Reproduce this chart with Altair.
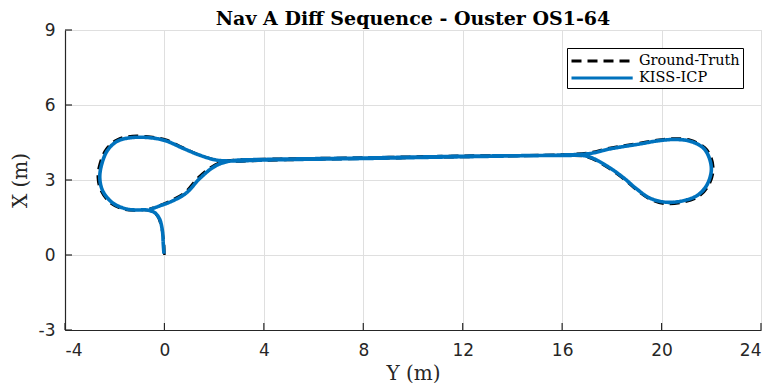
import altair as alt
import pandas as pd

# KISS-ICP trajectory (horizontal = Y [m], vertical = X [m])
kiss_y = [-0.02, -0.05, -0.08, -0.2, -0.4, -0.7, -1.12, -1.52, -2.08, -2.48, -2.6, -2.52, -2.28, -1.88,
          -1.28, -0.48, 0.08, 0.72, 1.4, 2.08, 2.8, 4.0, 8.0, 12.0, 16.0, 17.0, 17.8, 18.48, 19.0, 19.52,
          20.08, 20.72, 21.4, 21.8, 22.0, 21.92, 21.68, 21.12, 20.48, 19.8, 19.12, 18.48, 17.8, 17.12,
          16.0, 12.0, 8.0, 4.0, 2.8, 2.32, 1.92, 1.4, 0.88, 0.32, -0.2, -0.6]
kiss_x = [0.05, 0.5, 0.96, 1.45, 1.7, 1.8, 1.8, 1.84, 2.08, 2.56, 3.08, 3.64, 4.2, 4.56,
          4.7, 4.68, 4.56, 4.28, 4.0, 3.8, 3.76, 3.8, 3.86, 3.93, 3.98, 3.95, 3.56, 3.08, 2.64, 2.28,
          2.12, 2.14, 2.36, 2.76, 3.36, 3.88, 4.28, 4.56, 4.62, 4.56, 4.44, 4.34, 4.22, 4.06,
          4.0, 3.95, 3.88, 3.82, 3.78, 3.68, 3.48, 3.04, 2.48, 2.16, 1.96, 1.82]

# Ground-truth trajectory
gt_y = [0.0, -0.02, -0.1, -0.25, -0.45, -0.75, -1.15, -1.6, -2.15, -2.55, -2.68, -2.6, -2.34, -1.9,
        -1.28, -0.48, 0.1, 0.74, 1.42, 2.1, 2.8, 4.0, 8.0, 12.0, 16.0, 17.0, 17.82, 18.5, 19.02, 19.55,
        20.1, 20.74, 21.44, 21.86, 22.08, 22.0, 21.74, 21.16, 20.5, 19.8, 19.12, 18.48, 17.8, 17.12,
        16.0, 12.0, 8.0, 4.0, 2.8, 2.3, 1.88, 1.36, 0.84, 0.3, -0.2, -0.6]
gt_x = [0.0, 0.5, 1.0, 1.5, 1.72, 1.8, 1.78, 1.82, 2.06, 2.56, 3.1, 3.66, 4.24, 4.62,
        4.76, 4.72, 4.6, 4.3, 4.0, 3.8, 3.74, 3.78, 3.85, 3.92, 3.97, 3.92, 3.5, 3.02, 2.58, 2.22,
        2.05, 2.08, 2.3, 2.72, 3.34, 3.9, 4.3, 4.6, 4.66, 4.6, 4.48, 4.38, 4.26, 4.1,
        4.02, 3.97, 3.9, 3.84, 3.8, 3.72, 3.52, 3.1, 2.52, 2.2, 1.98, 1.84]

series_names = ["Ground-Truth", "KISS-ICP"]
series_colors = ["#000000", "#0072BD"]
x_ticks = [-4, 0, 4, 8, 12, 16, 20, 24]
y_ticks = [-3, 0, 3, 6, 9]

rows = []
for i, (a, b) in enumerate(zip(gt_y, gt_x)):
    rows.append({"y": a, "x": b, "i": i, "series": "Ground-Truth"})
for i, (a, b) in enumerate(zip(kiss_y, kiss_x)):
    rows.append({"y": a, "x": b, "i": i, "series": "KISS-ICP"})
df = pd.DataFrame(rows)

W, H = 696, 300
axis_common = dict(
    grid=True, gridColor="#dfdfdf", gridWidth=1, ticks=False, tickSize=0,
    domainColor="#262626", domainWidth=1.2,
    labelFont="DejaVu Sans", labelFontSize=17, labelColor="#262626",
    labelExpr="toString(datum.value)",
    titleFont="DejaVu Serif", titleFontSize=20, titleFontWeight="normal", titleColor="#262626",
)
X = alt.X("y:Q", scale=alt.Scale(domain=[-4, 24], nice=False, zero=False),
          axis=alt.Axis(values=x_ticks, title="Y (m)", labelPadding=12, titlePadding=5, **axis_common))
Y = alt.Y("x:Q", scale=alt.Scale(domain=[-3, 9], nice=False, zero=False),
          axis=alt.Axis(values=y_ticks, title="X (m)", labelPadding=10, titlePadding=8, **axis_common))

legend_opts = dict(title=None, orient="none", legendX=502, legendY=18,
                   symbolType="M-1,0H6.2", symbolSize=289, symbolStrokeWidth=3,
                   labelFont="DejaVu Serif", labelFontSize=14.5, labelColor="#000000",
                   labelOffset=49, rowPadding=0, padding=3,
                   strokeColor="#000000", fillColor="#ffffff", cornerRadius=0)
color = alt.Color("series:N", scale=alt.Scale(domain=series_names, range=series_colors),
                  legend=alt.Legend(**legend_opts))
dash = alt.StrokeDash("series:N", scale=alt.Scale(domain=series_names, range=[[10, 6], [1, 0]]),
                      legend=alt.Legend(**legend_opts))

base = alt.Chart(df)
gt_line = base.transform_filter(alt.datum.series == "Ground-Truth").mark_line(
    strokeWidth=2.5, interpolate="catmull-rom").encode(x=X, y=Y, color=color, strokeDash=dash, order="i:Q")
kiss_line = base.transform_filter(alt.datum.series == "KISS-ICP").mark_line(
    strokeWidth=3.6, interpolate="catmull-rom").encode(x=X, y=Y, color=color, strokeDash=dash, order="i:Q")

xt = alt.Chart(pd.DataFrame({"y": x_ticks})).mark_rule(color="#262626", strokeWidth=1.2).encode(
    x=X, y=alt.value(H), y2=alt.value(H - 7))
yt = alt.Chart(pd.DataFrame({"x": y_ticks})).mark_rule(color="#262626", strokeWidth=1.2).encode(
    y=Y, x=alt.value(0), x2=alt.value(7))

chart = alt.layer(xt, yt, gt_line, kiss_line).properties(
    width=W, height=H,
    title=alt.TitleParams("Nav A Diff Sequence - Ouster OS1-64", font="DejaVu Serif", fontSize=19,
                          fontWeight="bold", color="#000000", anchor="middle", frame="group", offset=-8),
    autosize=alt.AutoSizeParams(type="none"),
    padding={"left": 57, "top": 22, "right": 8, "bottom": 53},
).configure_view(stroke=None).configure(background="#ffffff")

chart.save("out.html", embed_options={"renderer": "svg", "actions": False})
